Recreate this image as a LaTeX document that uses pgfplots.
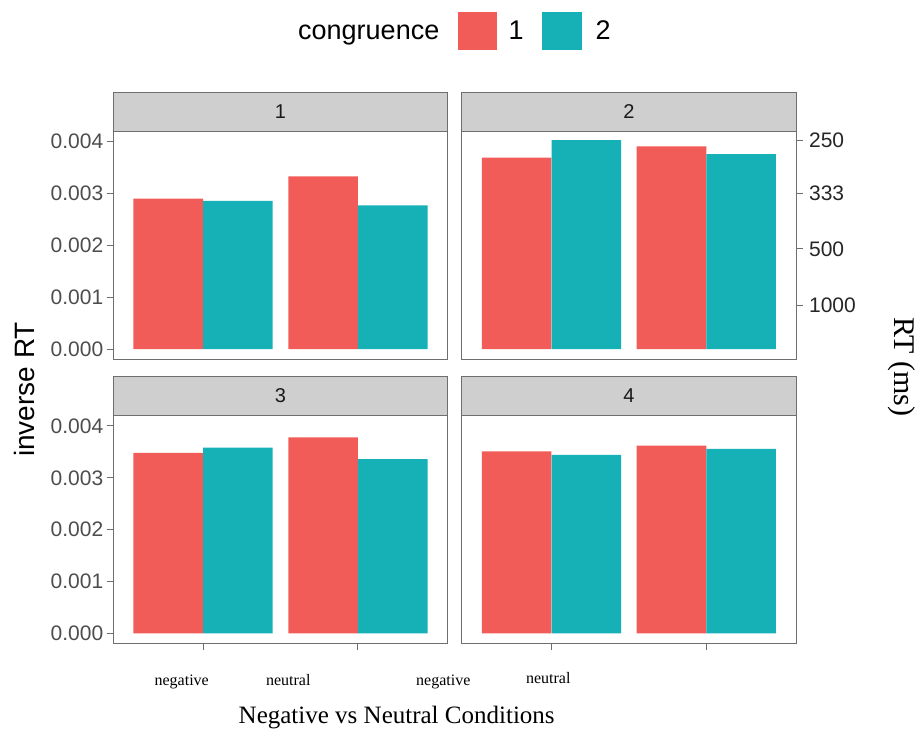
\documentclass[border=0pt]{standalone}
\usepackage{pgfplots}
\pgfplotsset{compat=1.18}
\usepackage{fontspec}
\setmainfont{Liberation Sans}
\newfontfamily\seriffont{Liberation Serif}
\definecolor{cred}{HTML}{F25C58}
\definecolor{cteal}{HTML}{16B1B7}
\definecolor{bordergray}{HTML}{6E6E6E}
\definecolor{stripgray}{HTML}{CFCFCF}
\definecolor{ticktext}{HTML}{4D4D4D}
\definecolor{striptext}{HTML}{1A1A1A}
\pgfplotsset{
  facet/.style={
    scale only axis, width=334.4pt, height=228.1pt,
    xmin=0.42, xmax=2.58, ymin=-0.0002, ymax=0.0042,
    axis line style={draw=bordergray, line width=1.1pt},
    tick style={draw=bordergray, line width=1pt},
    tick align=outside, major tick length=6.5pt,
    scaled y ticks=false, axis on top, clip=false,
    xtick=\empty, ytick=\empty,
    yticklabel style={font=\fontsize{21}{24}\selectfont, text=ticktext},
  },
  leftaxis/.style={ytick={0,0.001,0.002,0.003,0.004},
    yticklabels={0.000,0.001,0.002,0.003,0.004}, ytick pos=left},
  bottomaxis/.style={xtick={1,2}, xticklabels={,,}, xtick pos=bottom},
  redbar/.style={ybar, bar width=69.6pt, bar shift=0pt, fill=cred, draw=none},
  tealbar/.style={ybar, bar width=69.6pt, bar shift=0pt, fill=cteal, draw=none},
}
\newcommand{\strip}[2]{%
  \draw[draw=bordergray, line width=1.1pt, fill=stripgray] (#1.north west) rectangle ([yshift=39pt]#1.north east);
  \node[font=\fontsize{20}{24}\selectfont, text=striptext] at ([yshift=19.5pt]#1.north) {#2};
}
\begin{document}
\begin{tikzpicture}[x=1pt,y=1pt]
\useasboundingbox (0,0) rectangle (917,733);
% Panel 1
\begin{axis}[facet, leftaxis, name=p1, anchor=south west, at={(113.3pt,373.6pt)}]
\addplot[redbar] coordinates {(0.775,0.00290) (1.775,0.00333)};
\addplot[tealbar] coordinates {(1.225,0.00286) (2.225,0.00277)};
\end{axis}
% Panel 2
\begin{axis}[facet, name=p2, anchor=south west, at={(461.7pt,373.6pt)},
  ytick={0.00084,0.00193,0.003,0.00403}, yticklabels={1000,500,333,250}, ytick pos=right,
  yticklabel style={text=black!85, xshift=3pt}]
\addplot[redbar] coordinates {(0.775,0.00369) (1.775,0.00391)};
\addplot[tealbar] coordinates {(1.225,0.00403) (2.225,0.00376)};
\end{axis}
% Panel 3
\begin{axis}[facet, leftaxis, bottomaxis, name=p3, anchor=south west, at={(113.3pt,89.3pt)}]
\addplot[redbar] coordinates {(0.775,0.00348) (1.775,0.00378)};
\addplot[tealbar] coordinates {(1.225,0.00358) (2.225,0.00336)};
\end{axis}
% Panel 4
\begin{axis}[facet, bottomaxis, name=p4, anchor=south west, at={(461.7pt,89.3pt)}]
\addplot[redbar] coordinates {(0.775,0.00351) (1.775,0.00362)};
\addplot[tealbar] coordinates {(1.225,0.00344) (2.225,0.00356)};
\end{axis}
\strip{p1}{1}
\strip{p2}{2}
\strip{p3}{3}
\strip{p4}{4}
% legend
\node[anchor=base west, inner sep=0pt, font=\fontsize{27}{30}\selectfont] at (298,693) {congruence};
\fill[cred] (458,721) rectangle (497,683);
\node[anchor=base, inner sep=0pt, font=\fontsize{27}{30}\selectfont] at (516,693) {1};
\fill[cteal] (541.7,721) rectangle (581.7,683);
\node[anchor=base, inner sep=0pt, font=\fontsize{27}{30}\selectfont] at (603,693) {2};
% axis titles
\node[rotate=90, inner sep=0pt, font=\fontsize{28}{32}\selectfont] at (24,343.5) {inverse RT};
\node[rotate=-90, inner sep=0pt, font=\seriffont\fontsize{30}{34}\selectfont] at (902,366) {RT (ms)};
\node[anchor=base, inner sep=0pt, font=\seriffont\fontsize{25}{30}\selectfont] at (396.7,10) {Negative vs Neutral Conditions};
\node[anchor=base, inner sep=0pt, font=\seriffont\fontsize{16}{20}\selectfont] at (181.7,48) {negative};
\node[anchor=base, inner sep=0pt, font=\seriffont\fontsize{16}{20}\selectfont] at (288.3,48) {neutral};
\node[anchor=base, inner sep=0pt, font=\seriffont\fontsize{16}{20}\selectfont] at (443.3,48) {negative};
\node[anchor=base, inner sep=0pt, font=\seriffont\fontsize{16}{20}\selectfont] at (548.3,50) {neutral};
\end{tikzpicture}
\end{document}
